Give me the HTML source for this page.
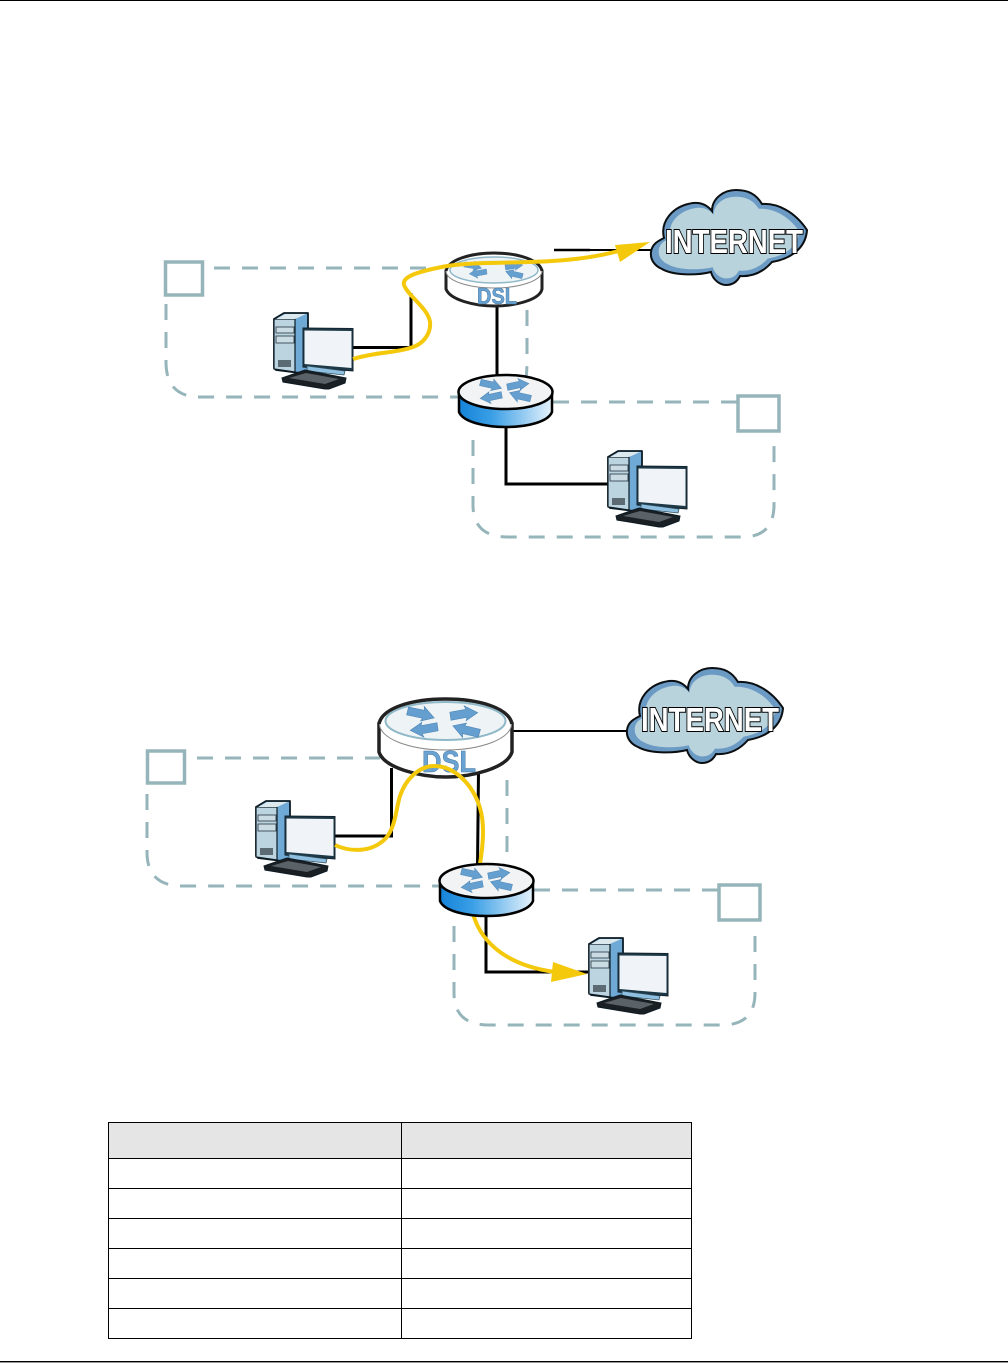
<!DOCTYPE html>
<html><head><meta charset="utf-8"><style>
html,body{margin:0;padding:0;background:#fff;width:1008px;height:1363px;overflow:hidden}
svg{display:block;position:absolute;left:0;top:0}
</style></head><body>
<svg width="1008" height="1363" viewBox="0 0 1008 1363" xmlns="http://www.w3.org/2000/svg" font-family="'Liberation Sans',sans-serif">
<defs>
<linearGradient id="bl" x1="0" x2="1" y1="0" y2="0"><stop offset="0" stop-color="#1583d8"/><stop offset=".35" stop-color="#3a9fe6"/><stop offset="1" stop-color="#e6f2fb"/></linearGradient>
<g id="arr"><path d="M-11 -3 L2 -3.500 L1 -6.500 L11 0.500 L1 5.500 L2 3 L-11 3.500 Z" fill="#649fd0" stroke="#4f86b4" stroke-width=".5"/></g>
<symbol id="pc" viewBox="0 0 80 78" overflow="visible">
<path d="M1 7 L11 1 L35 1 L35 62 L3 58 L1 56 Z" fill="#6fa9d6" stroke="#0d1b24" stroke-width="1.800" stroke-linejoin="round"/>
<path d="M1 7 L22 7 L22 60 L1 57 Z" fill="#bcd4e0" stroke="#0d1b24" stroke-width="1.200"/>
<path d="M3 7 L12 2 L33 2 L22 7 Z" fill="#dbe8ee"/>
<rect x="3" y="15" width="18" height="6" fill="#cbdbe4" stroke="#22343f" stroke-width=".8"/>
<rect x="3" y="24" width="18" height="7" fill="#cbdbe4" stroke="#22343f" stroke-width=".8"/>
<rect x="5" y="48" width="13" height="7" fill="#5b6a73"/>
<path d="M30 16 L80 16.500 L80 59 L30 55 Z" fill="#1d3846" stroke="#14242e" stroke-width="1"/>
<path d="M31.500 18.500 L78.500 19 L78.500 56 L31.500 52 Z" fill="#f0f4f8"/>
<path d="M34 54 L72 59 L71 63 L34 59 Z" fill="#8fbfe0" stroke="#30505f" stroke-width=".8"/>
<path d="M9 66 L32 58 L73 66 L72 71 L56 77 L52 77 L10 70 Z" fill="#1a1f23" stroke="#0d1b24" stroke-width="1"/>
<path d="M16 66 L33 61 L66 67 L52 72 Z" fill="#5a6167"/>
</symbol>
<path id="cloudp" d="M651 252 C652 244 658 241 664 238 C660 222 672 206 693 203 C702 202 708 206 712 211 C712 198 724 190 736 190 C748 190 756 194 762 204 C778 203 795 212 807 230 C806 245 795 258 772 262 C765 270 755 277 740 276 C736 284 730 285 726 285 C720 285 713 280 711 272 C695 276 672 275 662 269 C655 266 650 260 651 252 Z"/>
</defs>
<rect x="0" y="0" width="1008" height="1" fill="#000"/>
<rect x="0" y="1361" width="1008" height="1.4" fill="#000"/>

<!-- Diagram 1 -->
<g fill="none" stroke="#96b5ba" stroke-width="3" stroke-dasharray="16 12">
<path d="M166 304 V362 Q166 397 200 397 H458"/>
<path d="M527 310 V360 Q527 380 524 384"/>
<path d="M214 268 H440"/>
<path d="M553 402 H740"/>
<path d="M473 440 V505 Q473 537 508 537 H742 Q774 537 774 505 V440"/>
<rect x="165.500" y="262" width="37" height="33" stroke-dasharray="none" stroke-width="3.500"/>
<rect x="738" y="396" width="41" height="35" stroke-dasharray="none" stroke-width="3.500"/>
</g>
<g fill="none" stroke="#000" stroke-width="3">
<path d="M351 347.500 H411 V293"/>
<path d="M497 300 V378"/>
<path d="M506 425 V484 H608"/>
<path d="M554 250 H590" stroke-width="2.500"/>
<path d="M590 250 H655" stroke-width="2"/>
</g>
<use href="#pc" x="273" y="312" width="80" height="78"/>
<use href="#pc" x="607" y="450" width="80" height="78"/>

<g>
<use href="#cloudp" fill="#6b9bc5" stroke="#0b0f12" stroke-width="2"/>
<use href="#cloudp" transform="translate(729 238) scale(.9 .86) translate(-729 -238)" fill="#b8d3dc"/>
<text x="665" y="253" font-size="33" font-weight="bold" textLength="138" lengthAdjust="spacingAndGlyphs" fill="#fff" stroke="#000" stroke-width="2" paint-order="stroke">INTERNET</text>
</g>

<!-- DSL router 1 -->
<g>
<path d="M446 271 V289 C450 300 475 306 494 306 C515 306 540 300 542 289 V271 Z" fill="#fff" stroke="#222" stroke-width="3"/>
<ellipse cx="494" cy="271" rx="48" ry="17" fill="#fff" stroke="#888" stroke-width="1"/>
<path d="M446 271 C448 260 470 253 494 253 C518 253 540 260 542 271" fill="none" stroke="#222" stroke-width="3"/>
<ellipse cx="494" cy="270" rx="44" ry="13" fill="#eef3f6" stroke="#8fb8c8" stroke-width="1.500"/>
<use href="#arr" transform="translate(473 266) rotate(12) scale(.8)"/><use href="#arr" transform="translate(514 266) rotate(-8) scale(.8)"/>
<use href="#arr" transform="translate(478 273) rotate(172) scale(.8)"/><use href="#arr" transform="translate(514 274) rotate(195) scale(.8)"/>
<text x="477" y="304" font-size="23" font-weight="bold" textLength="40" lengthAdjust="spacingAndGlyphs" fill="#6aa3d2" stroke="#4a7da8" stroke-width=".6">DSL</text>
</g>
<!-- Router 2 -->
<g>
<path d="M459 392 V412 C463 422 485 427 506 427 C527 427 548 422 552 412 V392 Z" fill="url(#bl)" stroke="#000" stroke-width="2.500"/>
<ellipse cx="505.500" cy="392" rx="47" ry="17" fill="#f1f3f4" stroke="#000" stroke-width="2.500"/>
<use href="#arr" transform="translate(491 385) rotate(15)"/><use href="#arr" transform="translate(518 385) rotate(-10)"/>
<use href="#arr" transform="translate(491 397) rotate(170)"/><use href="#arr" transform="translate(520 396) rotate(195)"/>
</g>
<path d="M353 359 C375 352 395 353 410 348 C425 344 431 332 430 322 C428 308 408 296 404 285 C402 277 415 272 447 266 C490 259 560 268 622 250" fill="none" stroke="#f4c80b" stroke-width="4"/>
<path d="M650 242 L615 245 L620 262 Z" fill="#f4c80b"/>

<!-- Diagram 2 -->
<g fill="none" stroke="#96b5ba" stroke-width="3" stroke-dasharray="16 12">
<path d="M147 794 V852 Q147 886 182 886 H440"/>
<path d="M197 758 H380"/>
<path d="M507 780 V847 Q507 860 504 866"/>
<path d="M534 890 H718"/>
<path d="M454 926 V993 Q454 1025 489 1025 H722 Q755 1025 755 993 V932"/>
<rect x="147.500" y="751" width="37" height="32" stroke-dasharray="none" stroke-width="3.500"/>
<rect x="719" y="885" width="41" height="35" stroke-dasharray="none" stroke-width="3.500"/>
</g>
<g fill="none" stroke="#000" stroke-width="3">
<path d="M333 836 H391.500 V768"/>
<path d="M478.500 772 L477.500 866"/>
<path d="M486 914 V972 H588"/>
<path d="M510 731 H630" stroke-width="2"/>
</g>
<use href="#pc" x="255" y="800" width="80" height="78"/>
<use href="#pc" x="588" y="937" width="80" height="78"/>

<g transform="translate(-24 478)">
<use href="#cloudp" fill="#6b9bc5" stroke="#0b0f12" stroke-width="2"/>
<use href="#cloudp" transform="translate(729 238) scale(.9 .86) translate(-729 -238)" fill="#b8d3dc"/>
<text x="665" y="253" font-size="33" font-weight="bold" textLength="138" lengthAdjust="spacingAndGlyphs" fill="#fff" stroke="#000" stroke-width="2" paint-order="stroke">INTERNET</text>
</g>

<g>
<path d="M379 724 V752 C384 768 420 777 446 777 C472 777 507 768 512 752 V724 Z" fill="#fff" stroke="#222" stroke-width="3.500"/>
<ellipse cx="445.500" cy="724" rx="66" ry="26" fill="#fff" stroke="#888" stroke-width="1"/>
<path d="M379 724 C382 708 412 699 445.500 699 C479 699 509 708 512 724" fill="none" stroke="#222" stroke-width="3.500"/>
<ellipse cx="445.500" cy="721" rx="60" ry="19" fill="#eef3f6" stroke="#8fb8c8" stroke-width="2"/>
<use href="#arr" transform="translate(421 714) rotate(14) scale(1.250)"/><use href="#arr" transform="translate(464 714) rotate(-8) scale(1.250)"/>
<use href="#arr" transform="translate(424 729) rotate(172) scale(1.250)"/><use href="#arr" transform="translate(466 730) rotate(195) scale(1.250)"/>
<text x="422" y="772" font-size="31" font-weight="bold" textLength="54" lengthAdjust="spacingAndGlyphs" fill="#6aa3d2" stroke="#4a7da8" stroke-width=".6">DSL</text>
</g>
<path d="M335 845 C350 852 372 853 386 838 C396 826 396 808 400 796 C406 778 420 766 434 766 C455 766 473 785 480 808 C485 825 483 845 480 864" fill="none" stroke="#f4c80b" stroke-width="4"/>
<path d="M473 914 C482 945 510 966 555 972" fill="none" stroke="#f4c80b" stroke-width="4"/>
<path d="M587 974 L553 962 L551 982 Z" fill="#f4c80b"/>
<g>
<path d="M440 881 V901 C444 911 466 916 487 916 C508 916 529 911 533 901 V881 Z" fill="url(#bl)" stroke="#000" stroke-width="2.500"/>
<ellipse cx="486.500" cy="881" rx="47" ry="17" fill="#f1f3f4" stroke="#000" stroke-width="2.500"/>
<use href="#arr" transform="translate(472 874) rotate(15)"/><use href="#arr" transform="translate(499 874) rotate(-10)"/>
<use href="#arr" transform="translate(472 886) rotate(170)"/><use href="#arr" transform="translate(501 885) rotate(195)"/>
</g>

<!-- Table -->
<rect x="108.500" y="1122.500" width="583" height="36" fill="#e5e5e5"/>
<g stroke="#000" stroke-width="1" fill="none">
<rect x="108.500" y="1122.500" width="583" height="216"/>
<path d="M401.500 1122.500 V1338.500 M108.500 1158.500 H691.500 M108.500 1188.500 H691.500 M108.500 1218.500 H691.500 M108.500 1248.500 H691.500 M108.500 1278.500 H691.500 M108.500 1308.500 H691.500"/>
</g>
</svg>
</body></html>
